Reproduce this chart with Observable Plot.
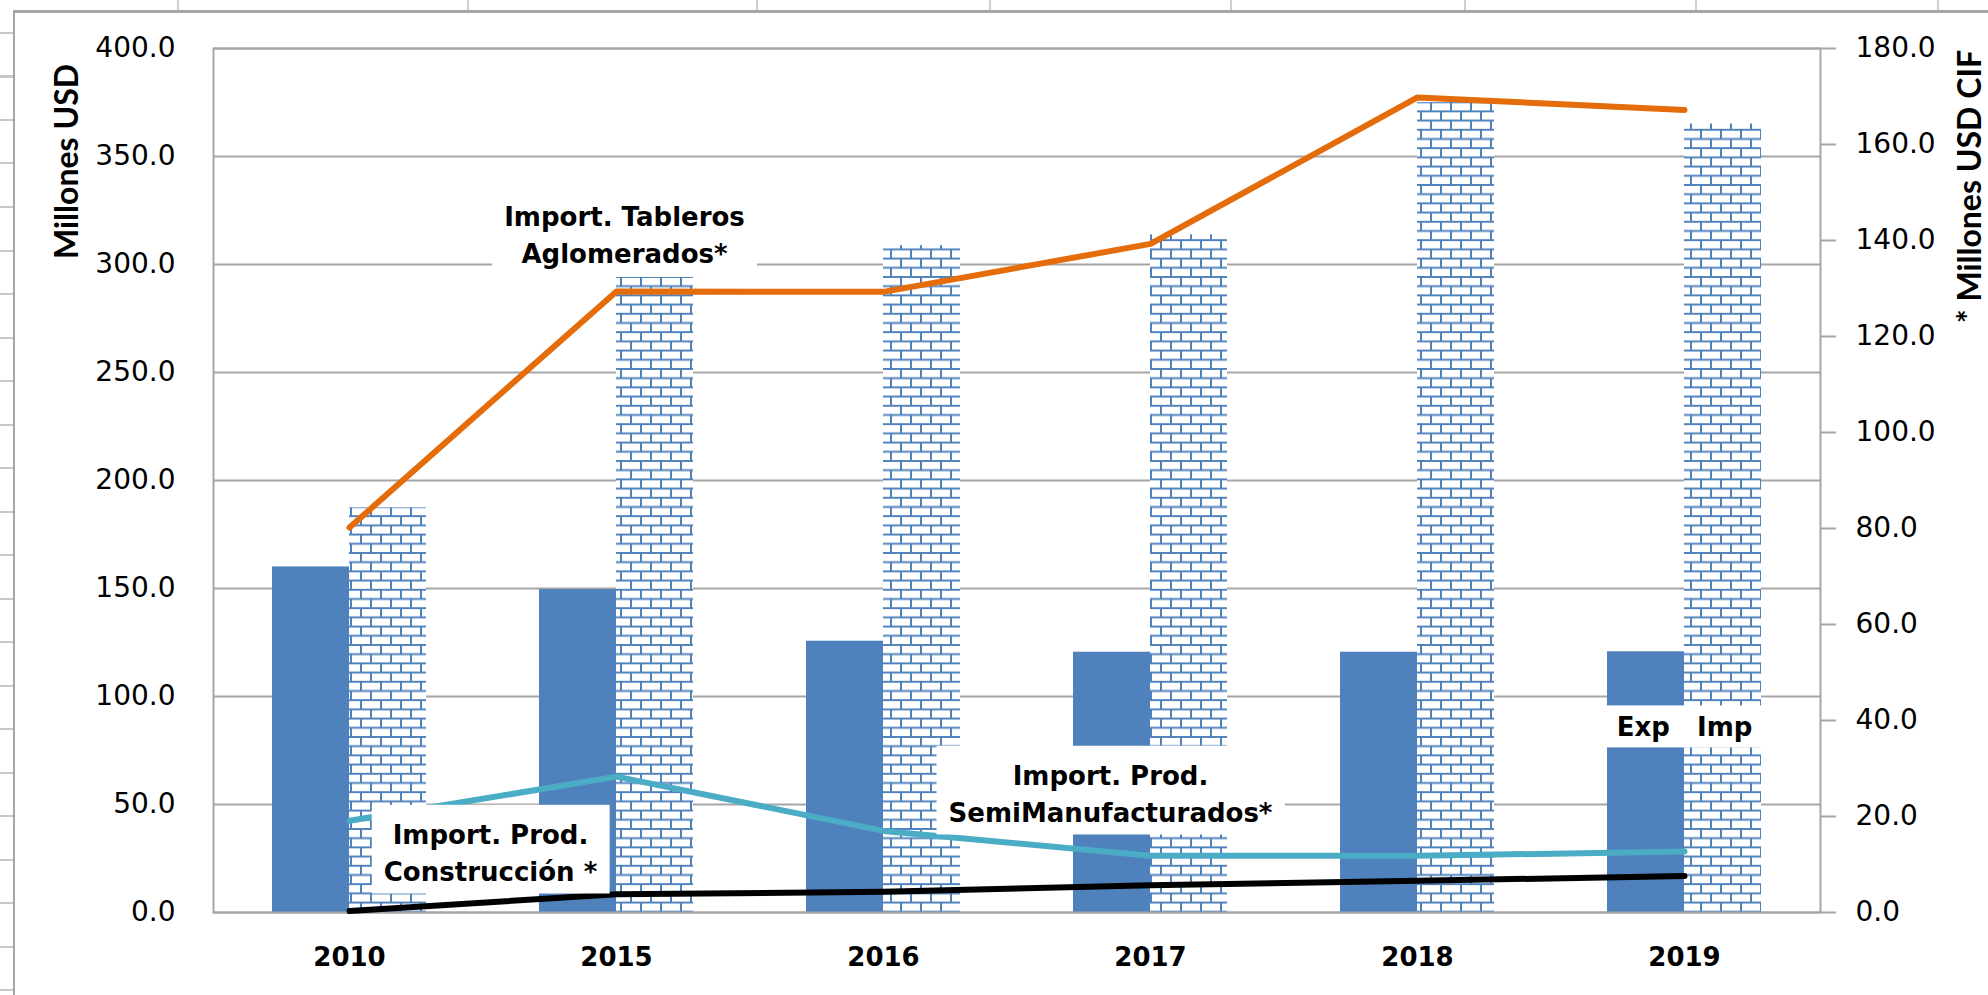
<!DOCTYPE html>
<html>
<head>
<meta charset="utf-8">
<script src="https://cdn.jsdelivr.net/npm/d3@7"></script>
<script src="https://cdn.jsdelivr.net/npm/@observablehq/plot@0.6"></script>
<style>
  html, body { margin: 0; padding: 0; background: #fff; overflow: hidden; }
  #wrap { position: relative; width: 1988px; height: 995px; overflow: hidden; }
  #chart { position: absolute; left: 0; top: 0; }
  #sheet { position: absolute; left: 0; top: 0; width: 1988px; height: 995px; pointer-events: none; }
  .frameBorder { position: absolute; left: 13px; top: 10px; width: 2100px; height: 1100px;
    border-left: 2px solid #a6a6a6; border-top: 3px solid #a6a6a6; }
  .rows { position: absolute; left: 0; top: 0; width: 13px; height: 995px;
    background: repeating-linear-gradient(to bottom, transparent 0px, transparent 32px, #c8c8c8 32px, #c8c8c8 34px, transparent 34px, transparent 43.5px); }
  .col { position: absolute; top: 0; width: 2px; height: 10px; background: #d0d0d0; }
</style>
</head>
<body>
<div id="wrap">
  <div id="chart"></div>
  <div id="sheet"><div class="rows"></div><div class="frameBorder"></div></div>
</div>
<script>
// ---------- data ----------
const years = ["2010", "2015", "2016", "2017", "2018", "2019"];
const exportValues = [160.0, 149.5, 125.6, 120.5, 120.5, 120.7];       // Millones USD (left axis)
const importValues = [187.4, 294.0, 308.7, 313.7, 375.0, 365.0];       // Millones USD (left axis)
const tablerosValues = [80.2, 129.4, 129.3, 139.3, 169.8, 167.2];      // Millones USD CIF (right axis)
const semiValues = [19.1, 28.3, 17.0, 11.8, 11.8, 12.7];               // right axis
const construccionValues = [0.3, 3.8, 4.3, 5.7, 6.6, 7.6];             // right axis
const leftTicks = [0, 50, 100, 150, 200, 250, 300, 350, 400];
const rightTicks = [0, 20, 40, 60, 80, 100, 120, 140, 160, 180];
const leftMax = 400;
const rightMax = 180;
const leftTitle = "Millones USD";
const rightTitle = "* Millones USD CIF";
const calloutTexts = ["Import. Tableros\nAglomerados*", "Import. Prod.\nConstrucción *", "Import. Prod.\nSemiManufacturados*", "Exp\u00a0\u00a0\u00a0Imp"];
const calloutYears = ["2015", "2010", "2017", "2019"];
const calloutValues = [141.7, 12.9, 25.2, 39.2];                        // right-axis units
const sheetColumns = [177, 467, 756, 989, 1230, 1464, 1695, 1937];

// ---------- layout ----------
const width = 1988, height = 995;
const marginLeft = 213, marginRight = 168, marginTop = 48, marginBottom = 83;
const paddingInner = 0.425;
const bandHalf = (width - marginLeft - marginRight) / years.length * (1 - paddingInner) / 2;
const toLeft = v => v * leftMax / rightMax;

const expData = years.map((year, i) => ({year, value: exportValues[i]}));
const impData = years.map((year, i) => ({year, value: importValues[i]}));
const tablerosData = years.map((year, i) => ({year, value: tablerosValues[i]}));
const semiData = years.map((year, i) => ({year, value: semiValues[i]}));
const constData = years.map((year, i) => ({year, value: construccionValues[i]}));
const callouts = calloutTexts.map((text, i) => ({text, year: calloutYears[i], value: calloutValues[i]}));

const gridColor = "#a6a6a6";
const labelFont = "DejaVu Sans";

function callout(c, dx) {
  return Plot.text([c], {
    x: "year", y: d => toLeft(d.value), text: "text", dx,
    fontFamily: labelFont, fontWeight: "bold", fontSize: 26, lineHeight: 1.45,
    fill: "#000", textAnchor: "middle", lineAnchor: "middle"
  });
}

const plot = Plot.plot({
  width, height, marginLeft, marginRight, marginTop, marginBottom,
  style: {fontFamily: labelFont, background: "transparent", color: "#000", overflow: "visible"},
  x: {type: "band", domain: years, paddingInner, paddingOuter: paddingInner / 2},
  y: {domain: [0, leftMax]},
  marks: [
    Plot.ruleY(leftTicks, {stroke: gridColor, strokeWidth: 2}),
    Plot.barY(expData, {x: "year", y: "value", fill: "#4F81BD", insetRight: bandHalf}),
    Plot.barY(impData, {x: "year", y: "value", fill: "url(#brick)", insetLeft: bandHalf}),
    Plot.frame({stroke: gridColor, strokeWidth: 2}),
    Plot.axisY({anchor: "left", ticks: leftTicks, tickSize: 0, tickPadding: 38, label: null,
      tickFormat: d => d.toFixed(1), fontSize: 28, fontFamily: labelFont, fill: "#000"}),
    Plot.axisY({anchor: "right", ticks: rightTicks.map(toLeft), tickSize: 15, tickPadding: 20, label: null,
      tickFormat: d => (d * rightMax / leftMax).toFixed(1), fontSize: 28, fontFamily: labelFont,
      stroke: gridColor, strokeWidth: 2, fill: "#000"}),
    Plot.axisX({ticks: years, tickSize: 0, tickPadding: 35, label: null,
      fontSize: 26, fontWeight: "bold", fontFamily: labelFont, fill: "#000"}),
    Plot.line(constData, {x: "year", y: d => toLeft(d.value), stroke: "#000", strokeWidth: 6, strokeLinecap: "round"}),
    Plot.line(semiData, {x: "year", y: d => toLeft(d.value), stroke: "#4BACC6", strokeWidth: 6, strokeLinecap: "round"}),
    Plot.line(tablerosData, {x: "year", y: d => toLeft(d.value), stroke: "#E46C0A", strokeWidth: 6, strokeLinecap: "round"}),
    callout(callouts[0], 8),
    callout(callouts[1], 141),
    callout(callouts[2], -40),
    callout(callouts[3], 0),
    Plot.text([leftTitle], {text: d => d, frameAnchor: "top-left", dx: -146, dy: 113, rotate: -90,
      textAnchor: "middle", lineAnchor: "middle",
      fontFamily: "Lato", fontWeight: "bold", fontSize: 32, fill: "#000"}),
    Plot.text([rightTitle], {text: d => d, frameAnchor: "top-right", dx: 150, dy: 138, rotate: -90,
      textAnchor: "middle", lineAnchor: "middle",
      fontFamily: "Lato", fontWeight: "bold", fontSize: 32, fill: "#000"})
  ]
});

// brick pattern for imports
const svg = d3.select(plot);
const defs = svg.insert("defs", ":first-child");
const pat = defs.append("pattern").attr("id", "brick").attr("patternUnits", "userSpaceOnUse")
  .attr("width", 20).attr("height", 18.4);
pat.append("rect").attr("width", 20).attr("height", 18.4).attr("fill", "#fff");
pat.append("path").attr("d", "M0,1H20M0,10.2H20M1,1V10.2M11,10.2V18.4M11,0V1")
  .attr("stroke", "#4F81BD").attr("stroke-width", 2).attr("fill", "none");

document.getElementById("chart").appendChild(plot);

// white boxes behind callouts
const flat = calloutTexts.map(t => t.replace(/\n/g, ""));
svg.selectAll("text").each(function () {
  const content = this.textContent;
  if (!flat.includes(content)) return;
  const bb = this.getBBox();
  const multi = this.querySelectorAll("tspan").length > 1;
  const padT = multi ? 15 : 7, padB = multi ? 6 : 5, padX = 12;
  const r = document.createElementNS("http://www.w3.org/2000/svg", "rect");
  r.setAttribute("x", bb.x - padX);
  r.setAttribute("y", bb.y - padT);
  r.setAttribute("width", bb.width + 2 * padX);
  r.setAttribute("height", bb.height + padT + padB);
  r.setAttribute("fill", "#fff");
  const t = this.getAttribute("transform");
  if (t) r.setAttribute("transform", t);
  this.parentNode.insertBefore(r, this);
});

// spreadsheet column stubs
const sheet = document.getElementById("sheet");
sheetColumns.forEach(x => {
  const d = document.createElement("div");
  d.className = "col";
  d.style.left = x + "px";
  sheet.appendChild(d);
});
</script>
</body>
</html>
